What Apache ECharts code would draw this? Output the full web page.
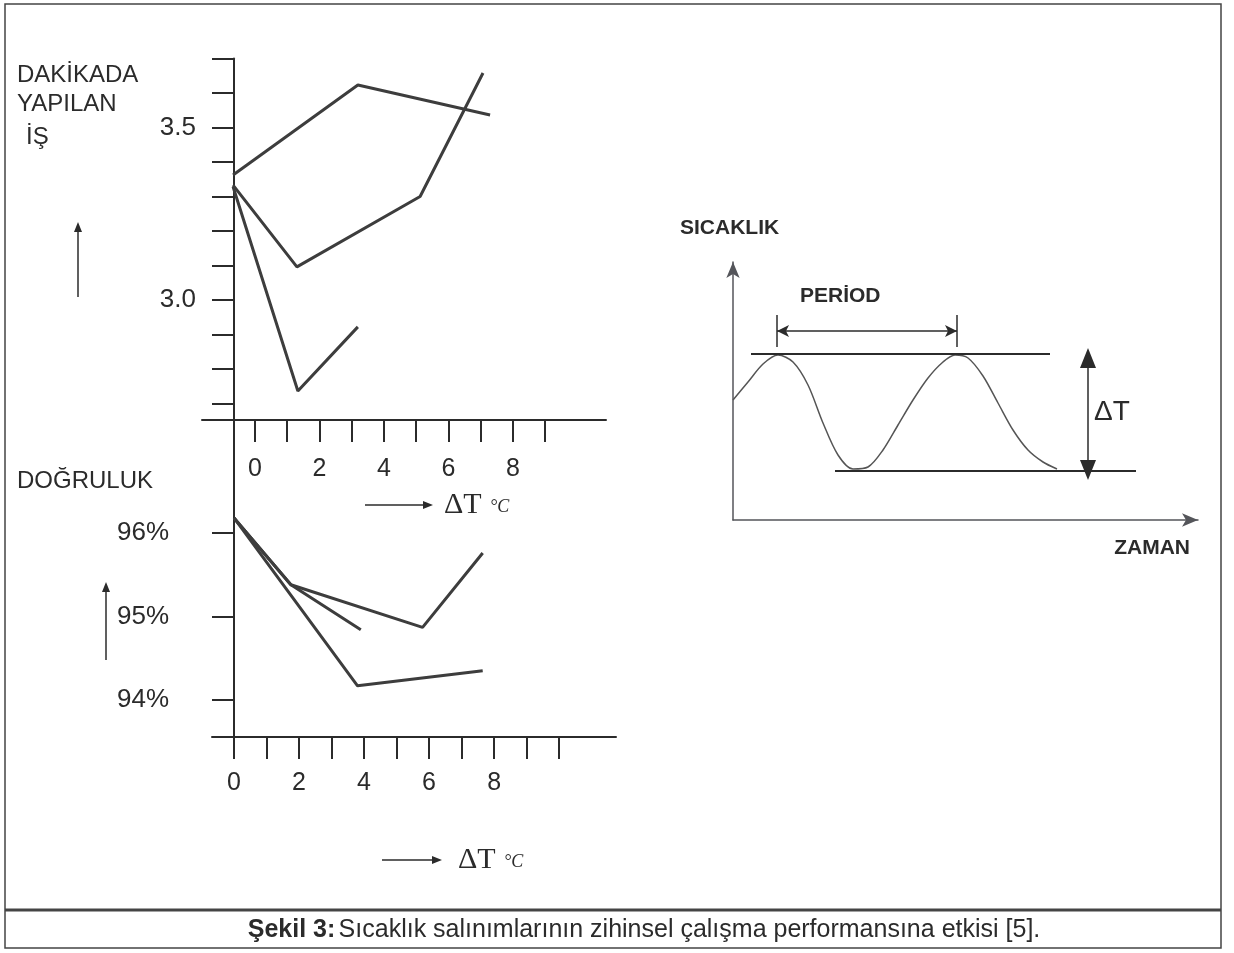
<!DOCTYPE html>
<html>
<head>
<meta charset="utf-8">
<title>Şekil 3</title>
<script src="https://cdn.jsdelivr.net/npm/echarts@6/dist/echarts.min.js"></script>
<style>
html,body{margin:0;padding:0;background:#fff;}
#chart{width:1234px;height:953px;}
</style>
</head>
<body>
<div id="chart"></div>
<script>
// üst grafik: dakikada yapılan iş (ΔT °C'ye göre)
var isX1 = [-0.68, 3.19, 7.29];
var isY1 = [3.362, 3.623, 3.536];
var isX2 = [-0.68, 1.30, 5.12, 7.07];
var isY2 = [3.333, 3.096, 3.300, 3.658];
var isX3 = [-0.68, 1.33, 3.19];
var isY3 = [3.328, 2.736, 2.922];
var isTicks = [2.7, 2.8, 2.9, 3.0, 3.1, 3.2, 3.3, 3.4, 3.5, 3.6, 3.7];
var isLabels = [3.0, 3.5];
var dtTicksUst = [0, 1, 2, 3, 4, 5, 6, 7, 8, 9];
var dtLabels = [0, 2, 4, 6, 8];

// alt grafik: doğruluk
var dogX1 = [0, 1.75, 3.9];
var dogY1 = [96.18, 95.38, 94.84];
var dogX2 = [0, 1.75, 5.8, 7.65];
var dogY2 = [96.18, 95.38, 94.87, 95.76];
var dogX3 = [0, 3.8, 7.65];
var dogY3 = [96.18, 94.17, 94.35];
var dogTicks = [94, 95, 96];
var dtTicksAlt = [0, 1, 2, 3, 4, 5, 6, 7, 8, 9, 10];

// sağ şema: sıcaklık - zaman
var zamanX = [0, 1.5, 3.0, 4.5, 6.0, 7.5, 9.0, 10.5, 12.0, 13.5, 15.0, 16.5, 18.0, 19.5, 21.0, 22.2, 23.5, 25.0, 26.5, 28.0, 29.5, 31.0, 32.4];
var sicaklikY = [12.0, 13.8, 15.6, 16.5, 15.8, 13.5, 9.7, 6.5, 5.1, 5.3, 7.0, 9.5, 12.0, 14.2, 15.8, 16.5, 16.2, 14.4, 11.7, 9.0, 7.0, 5.8, 5.1];
var tepeX = [1.8, 31.7], tepeY = 16.6;
var dipX = [10.2, 40.3], dipY = 4.9;
var periodX = [4.4, 22.4], periodY = 18.9, periodTick = [17.3, 20.5];
var dtOkX = 35.5, dtOkY = [16.2, 5.0];

var FONT = '"Liberation Sans", Arial, sans-serif';
var INK = '#2b2b2b';
var LINE = '#3d3d3d';

function pts(xs, ys) {
	return xs.map(function (x, i) { return [x, ys[i]]; });
}
function seri(xi, data) {
	return {
		type: 'line', xAxisIndex: xi, yAxisIndex: xi, data: data,
		showSymbol: false, symbol: 'none', silent: true,
		lineStyle: { color: LINE, width: 3 }
	};
}
function eksen(extra) {
	var base = {
		type: 'value',
		splitLine: { show: false },
		axisLine: { lineStyle: { color: INK, width: 2 } },
		axisTick: { lineStyle: { color: INK, width: 2 }, length: 22 },
		axisLabel: { color: INK, fontFamily: FONT }
	};
	for (var k in extra) {
		if (typeof extra[k] === 'object' && base[k] && !Array.isArray(extra[k])) {
			base[k] = Object.assign({}, base[k], extra[k]);
		} else {
			base[k] = extra[k];
		}
	}
	return base;
}
// küçük ok (çizgi + uç)
function ok(x1, y1, x2, y2) {
	var ang = Math.atan2(y2 - y1, x2 - x1), L = 10, W = 4;
	var bx = x2 - L * Math.cos(ang), by = y2 - L * Math.sin(ang);
	return [
		{ type: 'line', shape: { x1: x1, y1: y1, x2: bx, y2: by }, style: { stroke: INK, lineWidth: 1.5 } },
		{ type: 'polygon', shape: { points: [[x2, y2],
			[bx - W * Math.sin(ang), by + W * Math.cos(ang)],
			[bx + W * Math.sin(ang), by - W * Math.cos(ang)]] }, style: { fill: INK } }
	];
}
function yazi(x, y, text, size, opt) {
	opt = opt || {};
	return {
		type: 'text', x: x, y: y,
		style: {
			text: text, fill: INK,
			font: (opt.style || '') + ' ' + (opt.weight || 'normal') + ' ' + size + 'px ' + (opt.family || FONT),
			textAlign: opt.align || 'left', textVerticalAlign: 'middle'
		}
	};
}

var myChart = echarts.init(document.getElementById('chart'));

var graphics = [
	{ type: 'rect', shape: { x: 5, y: 4, width: 1216, height: 944 }, style: { fill: 'none', stroke: '#444', lineWidth: 1.5 } },
	{ type: 'line', shape: { x1: 5, y1: 910, x2: 1221, y2: 910 }, style: { stroke: '#444', lineWidth: 3 } },
	{
		type: 'text', x: 644, y: 930,
		style: {
			text: '{b|Şekil 3:} {r|Sıcaklık salınımlarının zihinsel çalışma performansına etkisi [5].}',
			textAlign: 'center', textVerticalAlign: 'middle',
			rich: {
				b: { fontFamily: FONT, fontSize: 25, fontWeight: 'bold', fill: INK, color: INK },
				r: { fontFamily: FONT, fontSize: 25, fill: INK, color: INK }
			}
		}
	},
	yazi(17, 75, 'DAKİKADA', 24),
	yazi(17, 104, 'YAPILAN', 24),
	yazi(26, 137, 'İŞ', 24),
	yazi(17, 481, 'DOĞRULUK', 24),
	yazi(680, 228, 'SICAKLIK', 21, { weight: 'bold' }),
	yazi(800, 296, 'PERİOD', 21, { weight: 'bold' }),
	yazi(1190, 548, 'ZAMAN', 21, { weight: 'bold', align: 'right' }),
	yazi(1094, 412, 'ΔT', 28),
	yazi(444, 505, 'ΔT', 30, { family: '"Liberation Serif", serif' }),
	yazi(490, 507, '°C', 18, { style: 'italic', family: '"Liberation Serif", serif' }),
	yazi(458, 860, 'ΔT', 30, { family: '"Liberation Serif", serif' }),
	yazi(504, 862, '°C', 18, { style: 'italic', family: '"Liberation Serif", serif' })
].concat(ok(78, 297, 78, 222), ok(106, 660, 106, 582), ok(365, 505, 433, 505), ok(382, 860, 442, 860));

var option = {
	backgroundColor: '#fff',
	animation: false,
	textStyle: { fontFamily: FONT },
	grid: [
		{ left: 202, top: 58.5, width: 404, height: 361.5 },
		{ left: 212, top: 420, width: 404, height: 317 },
		{ left: 733, top: 262, width: 465, height: 258 }
	],
	xAxis: [
		eksen({
			gridIndex: 0, min: -1.643, max: 10.884,
			axisLine: { onZero: false },
			axisTick: { customValues: dtTicksUst },
			axisLabel: { customValues: dtLabels, margin: 37, fontSize: 25 }
		}),
		eksen({
			gridIndex: 1, min: -0.677, max: 11.75,
			axisLine: { onZero: false },
			axisTick: { customValues: dtTicksAlt },
			axisLabel: { customValues: dtLabels, margin: 34, fontSize: 25 }
		}),
		eksen({
			gridIndex: 2, min: 0, max: 46.5,
			axisLine: { symbol: ['none', 'arrow'], symbolSize: [10, 16], lineStyle: { width: 1.5 } },
			axisTick: { show: false }, axisLabel: { show: false }
		})
	],
	yAxis: [
		eksen({
			gridIndex: 0, min: 2.652, max: 3.7, offset: -32,
			axisLine: { onZero: false },
			axisTick: { customValues: isTicks },
			axisLabel: { customValues: isLabels, margin: 38, fontSize: 26, formatter: function (v) { return v.toFixed(1); } }
		}),
		eksen({
			gridIndex: 1, min: 93.557, max: 97.353,
			axisLine: { onZero: true },
			axisTick: { customValues: dogTicks },
			axisLabel: { customValues: dogTicks, margin: 43, fontSize: 26, padding: [0, 0, 16, 0], formatter: function (v) { return v + '%'; } }
		}),
		eksen({
			gridIndex: 2, min: 0, max: 25.8,
			axisLine: { symbol: ['none', 'arrow'], symbolSize: [10, 16], lineStyle: { width: 1.5 } },
			axisTick: { show: false }, axisLabel: { show: false }
		})
	],
	series: [
		seri(0, pts(isX1, isY1)),
		seri(0, pts(isX2, isY2)),
		seri(0, pts(isX3, isY3)),
		seri(1, pts(dogX1, dogY1)),
		seri(1, pts(dogX2, dogY2)),
		seri(1, pts(dogX3, dogY3)),
		{
			type: 'line', xAxisIndex: 2, yAxisIndex: 2, silent: true,
			data: pts(zamanX, sicaklikY), smooth: 0.3, showSymbol: false, symbol: 'none',
			lineStyle: { color: '#555', width: 1.5 }
		},
		{
			type: 'line', xAxisIndex: 2, yAxisIndex: 2, silent: true,
			data: pts(tepeX, [tepeY, tepeY]), showSymbol: false, symbol: 'none',
			lineStyle: { color: INK, width: 2 },
			markLine: {
				silent: true, symbol: ['arrow', 'arrow'], symbolSize: [9, 12],
				label: { show: false },
				lineStyle: { type: 'solid', color: INK, width: 1.5 },
				data: [[{ coord: [periodX[0], periodY] }, { coord: [periodX[1], periodY] }]]
			}
		},
		{
			type: 'line', xAxisIndex: 2, yAxisIndex: 2, silent: true,
			data: pts(dipX, [dipY, dipY]), showSymbol: false, symbol: 'none',
			lineStyle: { color: INK, width: 2 },
			markLine: {
				silent: true, symbol: ['none', 'none'],
				label: { show: false },
				lineStyle: { type: 'solid', color: INK, width: 1.5 },
				data: [
					[{ coord: [periodX[0], periodTick[0]] }, { coord: [periodX[0], periodTick[1]] }],
					[{ coord: [periodX[1], periodTick[0]] }, { coord: [periodX[1], periodTick[1]] }]
				]
			}
		},
		{
			type: 'line', xAxisIndex: 2, yAxisIndex: 2, silent: true,
			data: pts([dtOkX, dtOkX], dtOkY), showSymbol: false, symbol: 'none',
			lineStyle: { color: INK, width: 0 },
			markLine: {
				silent: true, symbol: ['triangle', 'triangle'], symbolSize: [16, 20],
				label: { show: false },
				lineStyle: { type: 'solid', color: INK, width: 1.5 },
				data: [[{ coord: [dtOkX, dtOkY[0]] }, { coord: [dtOkX, dtOkY[1]] }]]
			}
		}
	],
	graphic: graphics
};
myChart.setOption(option);
</script>
</body>
</html>
